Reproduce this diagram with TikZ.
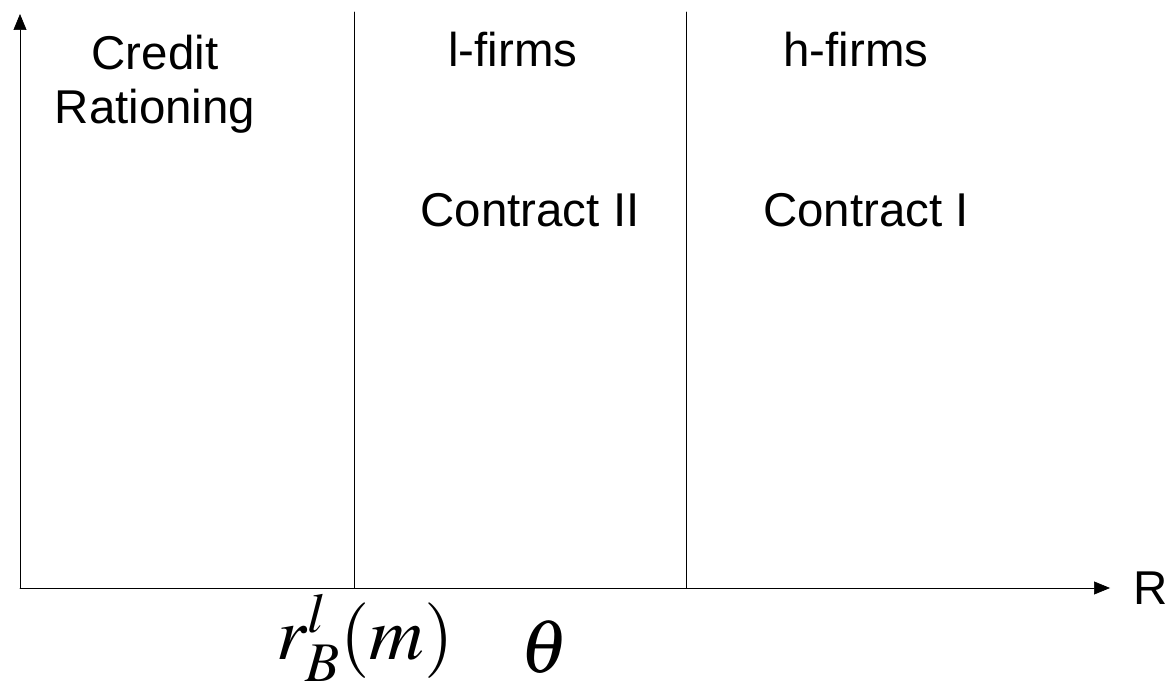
\documentclass[tikz,border=0pt]{standalone}
\usepackage{mathptmx}
\usepackage{fontspec}
\setmainfont{Liberation Sans}
\usetikzlibrary{arrows.meta,positioning}
\tikzset{
  every picture/.append style={line cap=round,line join=round},
  rat axis/.style={thin,-{Triangle[length=3.2mm,width=2.6mm]}},
  rat divider/.style={thin},
  rat label/.style={font=\fontsize{27}{31}\selectfont,align=center,inner sep=0pt},
  rat math/.style={font=\fontsize{43}{47}\selectfont,inner sep=0pt}
}
\begin{document}
\begin{tikzpicture}
  \useasboundingbox (0,0) rectangle (23.36,13.8);
  \coordinate (origin) at (0.4,2.04);
  \coordinate (ytop) at (0.4,13.52);
  \coordinate (xend) at (22.2,2.04);
  \draw[rat axis] (origin) -- (ytop);
  \draw[rat axis] (origin) -- (xend);
  \node[rat label, right=0.46 of xend] (raxis) {R};
  % the two thresholds
  \coordinate (rbot) at (7.08,2.04);
  \coordinate (rtop) at (7.08,13.56);
  \coordinate (tbot) at (13.72,2.04);
  \coordinate (ttop) at (13.72,13.56);
  \draw[rat divider] (rbot) -- (rtop);
  \draw[rat divider] (tbot) -- (ttop);
  \node[rat label] (credit) at (3.1,12.12) {Credit\\Rationing};
  \node[rat label] (lfirms) at (10.26,12.8) {l-firms};
  \node[rat label] (hfirms) at (17.12,12.8) {h-firms};
  \node[rat label] (contwo) at (10.6,9.6) {Contract II};
  \node[rat label] (conone) at (17.32,9.6) {Contract I};
  \node[rat math] (rbl) at (7.3,1.05) {$r_B^l(m)$};
  \node[rat math] (theta) at (10.9,0.85) {$\theta$};
\end{tikzpicture}
\end{document}
